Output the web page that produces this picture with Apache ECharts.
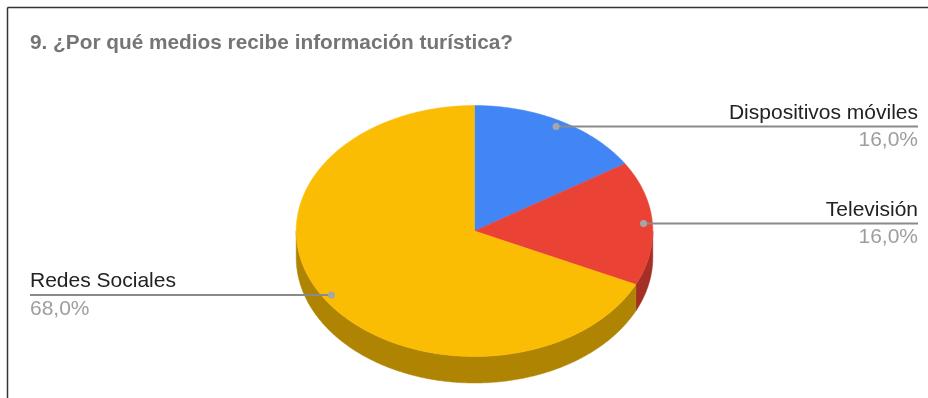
<!DOCTYPE html>
<html>
<head>
<meta charset="utf-8">
<script src="https://cdn.jsdelivr.net/npm/echarts@6/dist/echarts.min.js"></script>
<style>
  html, body { margin: 0; padding: 0; background: #fff; }
  #chart { width: 928px; height: 398px; }
</style>
</head>
<body>
<div id="chart"></div>
<script>
// Survey answers: share of respondents per channel (percent)
const categories = ['Dispositivos móviles', 'Televisión', 'Redes Sociales'];
const shares = [16, 16, 68];
const topColors = ['#4285F4', '#EA4335', '#FBBC04'];
const sideColors = ['#2E5DAB', '#A42F25', '#B08403'];
const titleText = '9. ¿Por qué medios recibe información turística?';

// Tilted pie layout
const CX = 474.5, CY = 231, RX = 178.3, RY = 125.5, DEPTH = 26.5;
const FONT = 'Arial, "Liberation Sans", sans-serif';

const total = shares.reduce((a, b) => a + b, 0);
const starts = [];
shares.reduce((acc, v, i) => { starts[i] = acc; return acc + v; }, 0);

function toAngle(v) { return v / total * 360; }
function pt(deg, r, dy) {
  const t = deg * Math.PI / 180;
  return [CX + RX * r * Math.sin(t), CY - RY * r * Math.cos(t) + (dy || 0)];
}
function arc(a0, a1, dy) {
  const pts = [];
  const n = Math.max(2, Math.ceil(Math.abs(a1 - a0) / 0.5));
  for (let k = 0; k <= n; k++) pts.push(pt(a0 + (a1 - a0) * k / n, 1, dy));
  return pts;
}
function fmtPct(v) {
  return (v / total * 100).toFixed(1).replace('.', ',') + '%';
}

const chart = echarts.init(document.getElementById('chart'), null, { renderer: 'canvas' });

const seriesData = categories.map((c, i) => ({ name: c, value: shares[i] }));

chart.setOption({
  animation: false,
  title: {
    text: titleText,
    left: 25,
    top: 28,
    textStyle: { fontFamily: FONT, fontSize: 20.8, fontWeight: 'bold', color: '#757575' }
  },
  graphic: [
    { type: 'line', shape: { x1: 7.5, y1: 7.5, x2: 928, y2: 7.5 }, style: { stroke: '#333', lineWidth: 1.5 }, silent: true },
    { type: 'line', shape: { x1: 7.5, y1: 7.5, x2: 7.5, y2: 398 }, style: { stroke: '#333', lineWidth: 1.5 }, silent: true }
  ],
  series: [
    {
      // pie body: side walls then top faces
      type: 'custom',
      coordinateSystem: 'none',
      data: seriesData,
      renderItem: function (params, api) {
        const i = params.dataIndex;
        const a0 = toAngle(starts[i]);
        const a1 = toAngle(starts[i] + api.value(0));
        const children = [];
        const s = Math.max(a0, 90), e = Math.min(a1, 270);
        if (e > s) {
          const top = arc(s, e, 0);
          const bottom = arc(e, s, DEPTH);
          children.push({
            type: 'polygon',
            shape: { points: top.concat(bottom) },
            style: { fill: sideColors[i], stroke: sideColors[i], lineWidth: 0.5 }
          });
        }
        children.push({
          type: 'polygon',
          shape: { points: [[CX, CY]].concat(arc(a0, a1, 0)) },
          style: { fill: topColors[i], stroke: topColors[i], lineWidth: 0.5 }
        });
        return { type: 'group', children: children };
      }
    },
    {
      // leader lines and labels
      type: 'custom',
      coordinateSystem: 'none',
      data: seriesData,
      z: 3,
      renderItem: function (params, api) {
        const i = params.dataIndex;
        const v = api.value(0);
        const mid = toAngle(starts[i] + v / 2);
        const dot = pt(mid, 0.95, 0);
        const right = Math.sin(mid * Math.PI / 180) >= 0;
        const xEnd = right ? 918 : 30;
        const y = dot[1];
        return {
          type: 'group',
          children: [
            { type: 'line', shape: { x1: dot[0], y1: y, x2: xEnd, y2: y }, style: { stroke: '#8a8a8a', lineWidth: 2 } },
            { type: 'circle', shape: { cx: dot[0], cy: y, r: 3.5 }, style: { fill: '#a6a6a6' } },
            {
              type: 'text',
              style: {
                x: xEnd, y: y - 13.5, text: categories[i],
                align: right ? 'right' : 'left', verticalAlign: 'middle',
                font: '21px ' + FONT, fill: '#222222'
              }
            },
            {
              type: 'text',
              style: {
                x: xEnd, y: y + 14, text: fmtPct(v),
                align: right ? 'right' : 'left', verticalAlign: 'middle',
                font: '21px ' + FONT, fill: '#9e9e9e'
              }
            }
          ]
        };
      }
    }
  ]
});
</script>
</body>
</html>
